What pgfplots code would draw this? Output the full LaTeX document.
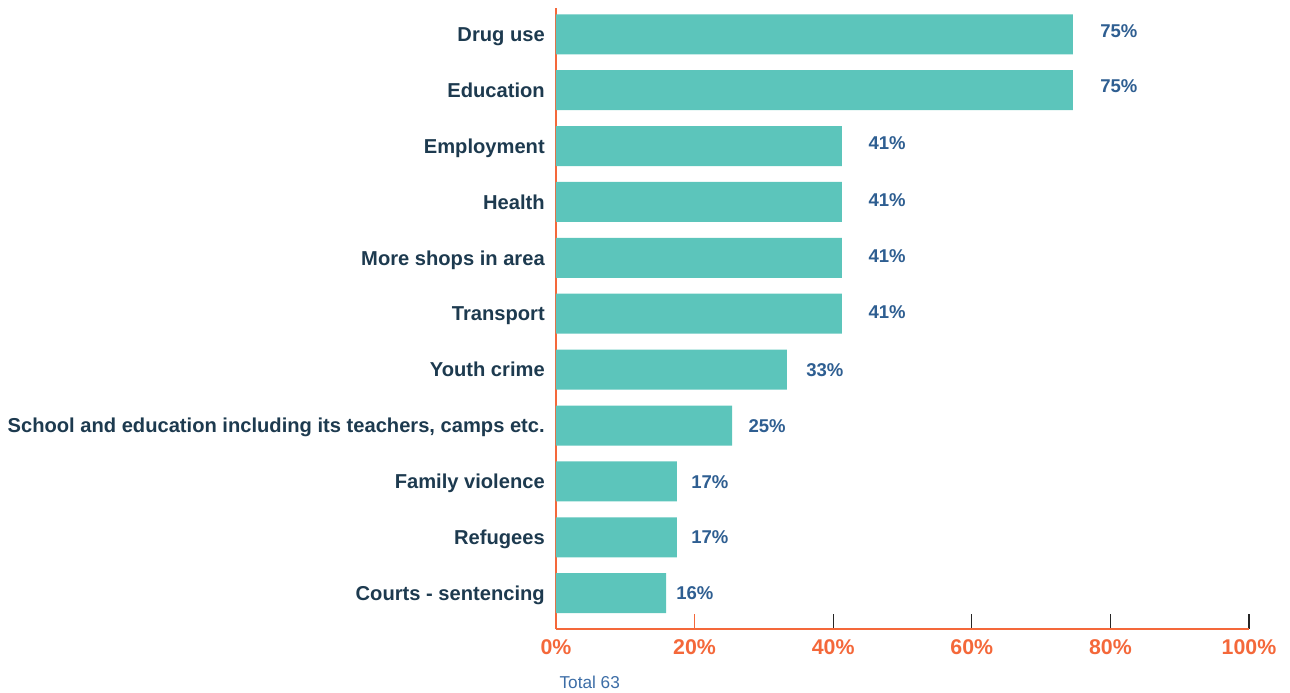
\documentclass[border=0pt]{standalone}
\usepackage{pgfplots}
\pgfplotsset{compat=1.18}
\usepackage{fontspec}
\setmainfont{Liberation Sans}
\definecolor{barteal}{HTML}{5CC5BB}
\definecolor{navy}{HTML}{1D3A4F}
\definecolor{valblue}{HTML}{2E5E91}
\definecolor{axorange}{HTML}{F4683A}
\definecolor{totblue}{HTML}{3C6DA6}
\begin{document}
\begin{tikzpicture}
\useasboundingbox (-417pt,-48pt) rectangle (550.5pt,471.75pt);
\begin{axis}[
  scale only axis, width=519.75pt, height=465.75pt,
  xmin=0, xmax=100, ymin=-0.64, ymax=10.47,
  clip=false,
  axis x line*=bottom, axis y line*=left,
  axis line style={-, draw=axorange, line width=1.3pt},
  xtick={40,60,80,100}, tick align=inside,
  major tick length=11.25pt,
  xtick style={draw=black!85, line width=1pt},
  extra x ticks={0,20},
  extra x tick style={every x tick/.style={draw=axorange, line width=1pt}, every major tick/.style={draw=axorange, line width=1pt}},
  ytick={0,1,2,3,4,5,6,7,8,9,10},
  ytick style={draw=none},
  yticklabels={Courts - sentencing, Refugees, Family violence, {School and education including its teachers, camps etc.}, Youth crime, Transport, More shops in area, Health, Employment, Education, Drug use},
  yticklabel style={anchor=base east, inner sep=0pt, xshift=-8.25pt, yshift=-5.4pt, text=navy, font=\fontsize{15.1}{18}\selectfont\bfseries},
  /pgf/number format/assume math mode=true,
  xticklabel={\pgfmathprintnumber{\tick}\%},
  xticklabel style={anchor=center, inner sep=0pt, yshift=-13.5pt, text=axorange, font=\fontsize{16}{19}\selectfont\bfseries},
]
\addplot[xbar, bar width=30pt, fill=barteal, draw=none] coordinates {
  (15.9,0) (17.46,1) (17.46,2) (25.4,3) (33.33,4) (41.27,5) (41.27,6) (41.27,7) (41.27,8) (74.6,9) (74.6,10)
};
\addplot[only marks, mark=none, point meta=explicit symbolic,
  nodes near coords,
  every node near coord/.append style={anchor=base west, inner sep=0pt, yshift=-5pt, text=valblue, font=\fontsize{13.9}{16}\selectfont\bfseries}]
  coordinates {
  (17.32,0) [16\%] (19.48,1) [17\%] (19.48,2) [17\%] (27.75,3) [25\%] (36.08,4) [33\%]
  (45.07,5.04) [41\%] (45.07,6.04) [41\%] (45.07,7.04) [41\%] (45.07,8.06) [41\%] (78.5,9.07) [75\%] (78.5,10.07) [75\%]
};
\node[anchor=west, inner sep=0pt, text=totblue, font=\fontsize{12.9}{15}\selectfont] at (rel axis cs:0,0) [xshift=2.5pt, yshift=-39.75pt] {Total 63};
\end{axis}
\end{tikzpicture}
\end{document}
